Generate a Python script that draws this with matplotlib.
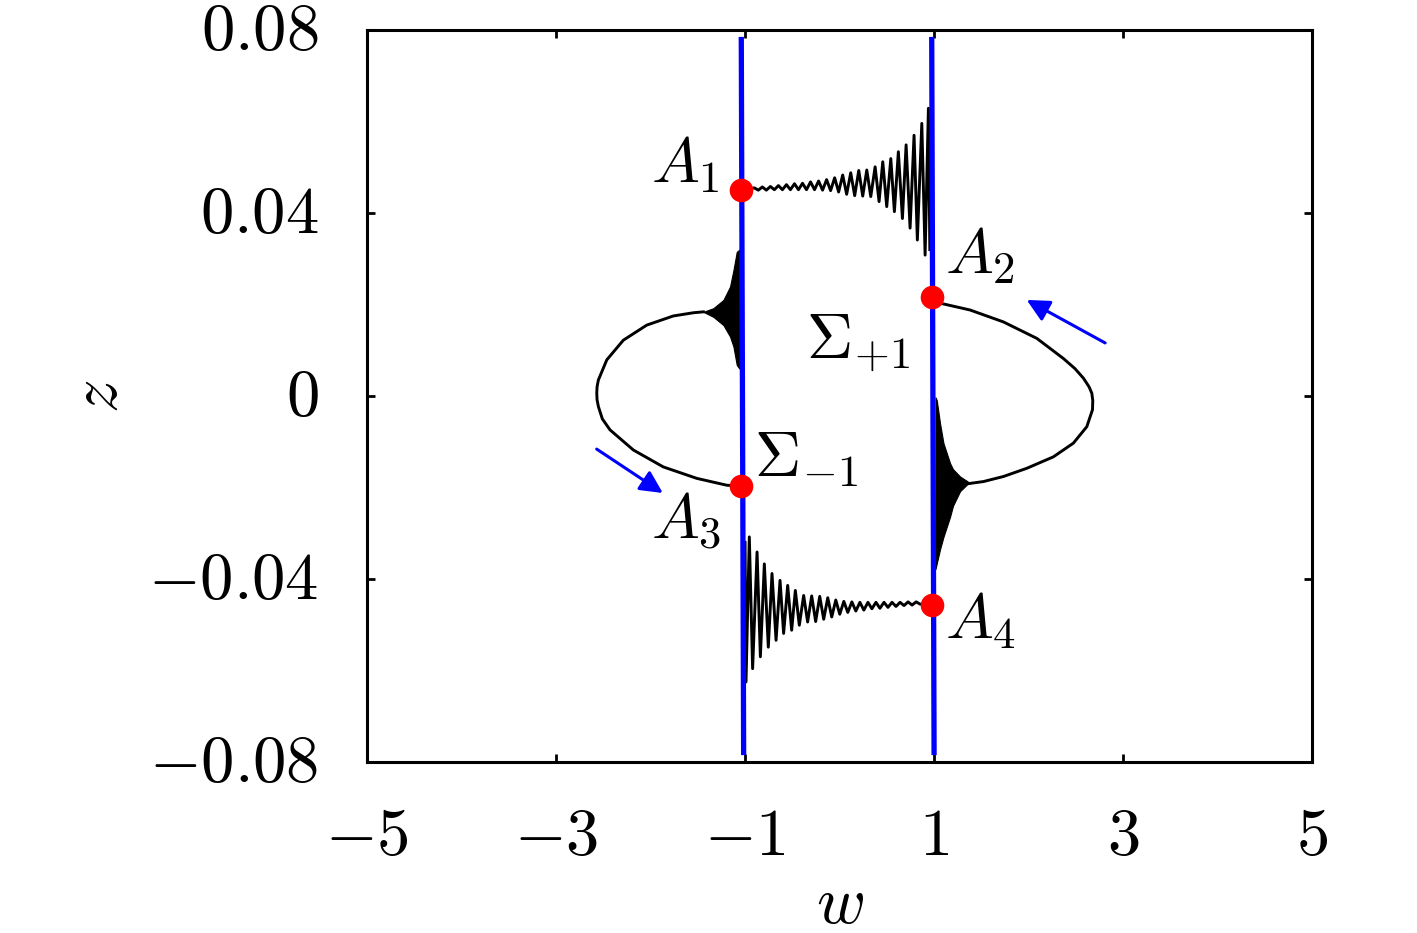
import numpy as np
import matplotlib
matplotlib.use("Agg")
import matplotlib.pyplot as plt
from matplotlib.transforms import ScaledTranslation

plt.rcParams['mathtext.fontset'] = 'cm'
plt.rcParams['font.family'] = 'serif'
plt.rcParams['font.serif'] = ['DejaVu Serif']

# axis ticks
xticks = [-5, -3, -1, 1, 3, 5]
yticks = [-0.08, -0.04, 0, 0.04, 0.08]
xtick_labels = [r'$-5$', r'$-3$', r'$-1$', r'$1$', r'$3$', r'$5$']
ytick_labels = [r'$-0.08$', r'$-0.04$', r'$0$', r'$0.04$', r'$0.08$']

# switching lines Sigma_{-1}, Sigma_{+1} (w at top, w at bottom)
sig_m1_w = [-1.040, -1.015]
sig_p1_w = [0.975, 1.000]
sig_z = [0.0785, -0.0785]

# points A1..A4
pts_w = [-1.040, 0.976, -1.042, 0.976]
pts_z = [0.0450, 0.0217, -0.0197, -0.0457]
pts_lab = [r'$A_1$', r'$A_2$', r'$A_3$', r'$A_4$']
lab_w = [-1.63, 1.49, -1.62, 1.49]
lab_z = [0.0505, 0.0308, -0.0275, -0.0490]

# upper chirp A1 -> Sigma_{+1}: maxima and minima
top_w_max = [-0.902, -0.817, -0.732, -0.647, -0.562, -0.477, -0.392, -0.307,
             -0.222, -0.137, -0.052, 0.033, 0.118, 0.203, 0.288, 0.376,
             0.457, 0.542, 0.622, 0.704, 0.788, 0.870, 0.940]
top_z_max = [0.0455, 0.0457, 0.0458, 0.0460, 0.0462, 0.0464, 0.0465, 0.0468,
             0.0470, 0.0473, 0.0477, 0.0483, 0.0488, 0.0493, 0.0494, 0.0501,
             0.0512, 0.0519, 0.0534, 0.0549, 0.0570, 0.0596, 0.0629]
top_w_min = [-0.860, -0.775, -0.690, -0.605, -0.520, -0.435, -0.350, -0.265,
             -0.180, -0.095, -0.010, 0.075, 0.160, 0.245, 0.330, 0.418,
             0.499, 0.580, 0.665, 0.746, 0.823, 0.905, 0.955]
top_z_min = [0.0450, 0.0450, 0.0451, 0.0451, 0.0451, 0.0451, 0.0451, 0.0451,
             0.0450, 0.0449, 0.0446, 0.0441, 0.0438, 0.0437, 0.0436, 0.0425,
             0.0414, 0.0403, 0.0388, 0.0367, 0.0341, 0.0308, 0.0320]

# lower chirp A4 -> Sigma_{-1}
bot_w_min = [0.852, 0.767, 0.682, 0.597, 0.512, 0.427, 0.342, 0.257,
             0.172, 0.087, 0.002, -0.083, -0.168, -0.253, -0.338, -0.426,
             -0.507, -0.592, -0.672, -0.754, -0.838, -0.920, -0.990]
bot_z_min = [-0.0455, -0.0457, -0.0458, -0.0460, -0.0462, -0.0464, -0.0465, -0.0468,
             -0.0470, -0.0473, -0.0477, -0.0483, -0.0488, -0.0493, -0.0494, -0.0501,
             -0.0512, -0.0519, -0.0534, -0.0549, -0.0570, -0.0596, -0.0625]
bot_w_max = [0.810, 0.725, 0.640, 0.555, 0.470, 0.385, 0.300, 0.215,
             0.130, 0.045, -0.040, -0.125, -0.210, -0.295, -0.380, -0.468,
             -0.549, -0.630, -0.715, -0.796, -0.873, -0.955, -1.000]
bot_z_max = [-0.0450, -0.0450, -0.0451, -0.0451, -0.0451, -0.0451, -0.0451, -0.0451,
             -0.0450, -0.0449, -0.0446, -0.0441, -0.0438, -0.0437, -0.0436, -0.0425,
             -0.0414, -0.0403, -0.0388, -0.0367, -0.0341, -0.0308, -0.0320]

# right loop from A2
rloop_w = [0.976, 1.063, 1.381, 1.733, 2.087, 2.368, 2.490, 2.580, 2.640, 2.669,
           2.679, 2.676, 2.616, 2.474, 2.262, 1.981, 1.733, 1.522, 1.381]
rloop_z = [0.0217, 0.0203, 0.0188, 0.0162, 0.0126, 0.0082, 0.0060, 0.0039, 0.0020,
           0.0006, -0.0010, -0.0030, -0.0067, -0.0103, -0.0133, -0.0158, -0.0176,
           -0.0187, -0.0191]
# left loop from A3
lloop_w = [-1.042, -1.194, -1.511, -1.865, -2.182, -2.429, -2.510, -2.552, -2.566,
           -2.569, -2.566, -2.552, -2.463, -2.288, -2.040, -1.759, -1.547, -1.441]
lloop_z = [-0.0197, -0.0195, -0.0180, -0.0155, -0.0118, -0.0074, -0.0050, -0.0023,
           -0.0008, 0.0006, 0.0020, 0.0035, 0.0079, 0.0122, 0.0155, 0.0175, 0.0182,
           0.0184]

# dense oscillation envelopes next to the lines
rdense_w = [1.015, 1.028, 1.063, 1.099, 1.169, 1.20, 1.275, 1.35, 1.381]
rdense_hi = [-0.0003, -0.0009, -0.0060, -0.0103, -0.0147, -0.0160, -0.0176, -0.0186, -0.0191]
rdense_lo = [-0.0378, -0.0366, -0.0335, -0.0308, -0.0264, -0.0240, -0.0208, -0.0193, -0.0191]
ldense_w = [-1.441, -1.335, -1.229, -1.159, -1.123, -1.088, -1.060]
ldense_hi = [0.0184, 0.0192, 0.0210, 0.0239, 0.0275, 0.0315, 0.0320]
ldense_lo = [0.0184, 0.0173, 0.0155, 0.0130, 0.0108, 0.0068, 0.0060]

# direction arrows (start, end)
arr_right = [(2.81, 0.0116), (1.98, 0.0210)]
arr_left = [(-2.57, -0.0116), (-1.87, -0.0212)]


def chirp(w0, z0, wa, za, wb, zb):
    w = [w0]
    z = [z0]
    for i in range(len(wa)):
        w += [wa[i], wb[i]]
        z += [za[i], zb[i]]
    return w, z


fig = plt.figure(figsize=(14.17, 9.33), dpi=100)
ax = fig.add_axes([0.259, 0.1833, 0.667, 0.7845])

lw_curve = 2.1
tw, tz = chirp(pts_w[0], pts_z[0], top_w_max, top_z_max, top_w_min, top_z_min)
ax.plot(tw, tz, color='k', lw=lw_curve)
bw, bz = chirp(pts_w[3], pts_z[3], bot_w_min, bot_z_min, bot_w_max, bot_z_max)
ax.plot(bw, bz, color='k', lw=lw_curve)
ax.plot(rloop_w, rloop_z, color='k', lw=lw_curve)
ax.plot(lloop_w, lloop_z, color='k', lw=lw_curve)
ax.fill_between(rdense_w, rdense_lo, rdense_hi, color='k', lw=0.8)
ax.fill_between(ldense_w, ldense_lo, ldense_hi, color='k', lw=0.8)

ax.plot(sig_m1_w, sig_z, color='#0000ff', lw=3.8, solid_capstyle='butt')
ax.plot(sig_p1_w, sig_z, color='#0000ff', lw=3.8, solid_capstyle='butt')

ax.plot(pts_w, pts_z, 'o', color='#ff0000', ms=17, mec='none', zorder=5)

for w, z, s in zip(lab_w, lab_z, pts_lab):
    ax.text(w, z, s, fontsize=46, ha='center', va='center')
ax.text(0.20, 0.0116, r'$\Sigma_{+1}$', fontsize=46, ha='center', va='center')
ax.text(-0.35, -0.0136, r'$\Sigma_{-1}$', fontsize=46, ha='center', va='center')

for a in (arr_right, arr_left):
    ax.annotate('', xy=a[1], xytext=a[0],
                arrowprops=dict(arrowstyle='-|>', color='#0000ff', lw=2.2,
                                mutation_scale=34, shrinkA=0, shrinkB=0))

ax.set_xlim(-5, 5)
ax.set_ylim(-0.08, 0.08)
ax.set_xticks(xticks)
ax.set_xticklabels(xtick_labels)
ax.set_yticks(yticks)
ax.set_yticklabels(ytick_labels)
ax.tick_params(direction='in', length=6, width=2, top=True, right=True,
               labelsize=48, pad=30)
ax.tick_params(axis='y', pad=35)
shift = ScaledTranslation(0, 6 / 100, fig.dpi_scale_trans)
for lab in ax.get_yticklabels():
    lab.set_transform(lab.get_transform() + shift)
for sp in ax.spines.values():
    sp.set_linewidth(2.2)

ax.set_xlabel(r'$w$', fontsize=48, labelpad=2)
ax.set_ylabel(r'$z$', fontsize=48, labelpad=12)

fig.savefig('out.png', dpi=100)
